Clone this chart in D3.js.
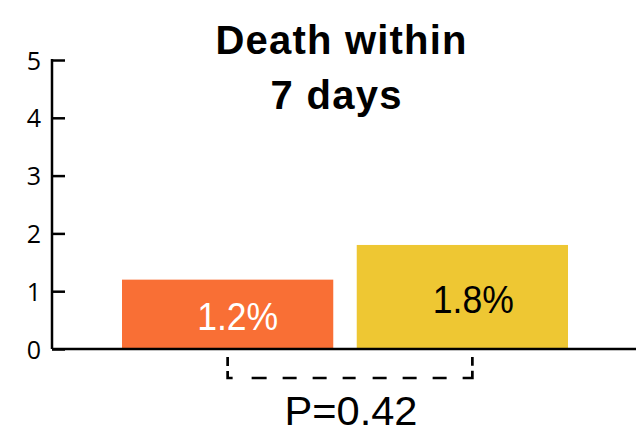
<!DOCTYPE html>
<html lang="en">
<head>
  <meta charset="UTF-8">
  <script src="https://cdn.jsdelivr.net/npm/d3@7"></script>
  <title>Death within 7 days</title>
  <style>
    body { margin: 0; background: #fff; }
  </style>
</head>
<body>
  <svg class="svg" width="636" height="436"></svg>
  <script>
    const groups = ["Group 1", "Group 2"]
    const values = [1.2, 1.8]
    const labels = ["1.2%", "1.8%"]
    const yTicks = [0, 1, 2, 3, 4, 5]
    const pValue = "P=0.42"
    const titleLines = ["Death within", "7 days"]

    const colors = ["#f96f35", "#eec733"]
    const labelColors = ["#ffffff", "#000000"]

    let svg = d3.select(".svg")
    let width = +svg.attr("width")
    let margin = {left: 52, bottom: 349, top: 60}

    let y = d3.scaleLinear()
      .domain([0, 5])
      .range([margin.bottom, margin.top])

    let x = d3.scaleBand()
      .domain(groups)
      .range([122, 568])
      .paddingInner(0.1)
      .paddingOuter(0)

    // y axis, ticks pointing inward
    let yAxis = g => g
      .attr("transform", `translate(${margin.left},0)`)
      .call(d3.axisRight(y).tickValues(yTicks).tickSize(13).tickFormat(d3.format("d")))
      .call(g => g.select(".domain").remove())
      .call(g => g.selectAll(".tick line").attr("stroke", "#000").attr("stroke-width", 2.5))
      .call(g => g.selectAll(".tick text")
        .attr("x", -11)
        .attr("dy", "0.36em")
        .attr("text-anchor", "end")
        .attr("font-family", "Open Sans, sans-serif")
        .attr("font-size", 25)
        .attr("fill", "#000"))

    svg.append("g").call(yAxis)

    svg.append("line")
      .attr("x1", margin.left).attr("x2", margin.left)
      .attr("y1", y(5) - 1).attr("y2", y(0))
      .attr("stroke", "#000").attr("stroke-width", 2.5)

    // bars
    svg.append("g")
      .selectAll("rect")
      .data(values)
      .join("rect")
      .attr("x", (d, i) => x(groups[i]))
      .attr("y", d => y(d))
      .attr("width", x.bandwidth())
      .attr("height", d => y(0) - y(d))
      .attr("fill", (d, i) => colors[i])

    // baseline
    svg.append("line")
      .attr("x1", margin.left).attr("x2", width)
      .attr("y1", y(0)).attr("y2", y(0))
      .attr("stroke", "#000").attr("stroke-width", 2.5)

    // bar labels
    svg.append("g")
      .attr("font-family", "Liberation Sans, Arial, sans-serif")
      .attr("font-size", 38)
      .attr("text-anchor", "middle")
      .selectAll("text")
      .data(values)
      .join("text")
      .attr("x", (d, i) => x(groups[i]) + x.bandwidth() / 2 + (i == 0 ? 10 : 11))
      .attr("y", d => (y(d) + y(0)) / 2 + 16)
      .attr("textLength", 81)
      .attr("lengthAdjust", "spacingAndGlyphs")
      .attr("fill", (d, i) => labelColors[i])
      .text((d, i) => labels[i])

    // significance bracket
    let bx1 = x(groups[0]) + x.bandwidth() / 2
    let bx2 = x(groups[1]) + x.bandwidth() / 2 + 10
    svg.append("path")
      .attr("d", `M${bx1},${y(0) + 8}V${y(0) + 29}H${bx2}V${y(0) + 8}`)
      .attr("fill", "none")
      .attr("stroke", "#000")
      .attr("stroke-width", 2.7)
      .attr("stroke-dasharray", "9,5,12,19,15,16,14,16,14,16,13,17,14,16,14,16,14,16,17,5,9,60")

    svg.append("text")
      .attr("x", (bx1 + bx2) / 2 + 1)
      .attr("y", 425)
      .attr("text-anchor", "middle")
      .attr("font-family", "Liberation Sans, Arial, sans-serif")
      .attr("font-size", 40)
      .attr("textLength", 133)
      .attr("lengthAdjust", "spacingAndGlyphs")
      .attr("fill", "#000")
      .text(pValue)

    // title
    svg.append("g")
      .attr("font-family", "Liberation Sans, Arial, sans-serif")
      .attr("font-weight", "bold")
      .attr("font-size", 40)
      .attr("text-anchor", "middle")
      .selectAll("text")
      .data(titleLines)
      .join("text")
      .attr("x", (d, i) => i == 0 ? 341 : 336)
      .attr("y", (d, i) => 54 + i * 55)
      .attr("textLength", (d, i) => i == 0 ? 251 : 131)
      .attr("lengthAdjust", "spacing")
      .text(d => d)
  </script>
</body>
</html>
